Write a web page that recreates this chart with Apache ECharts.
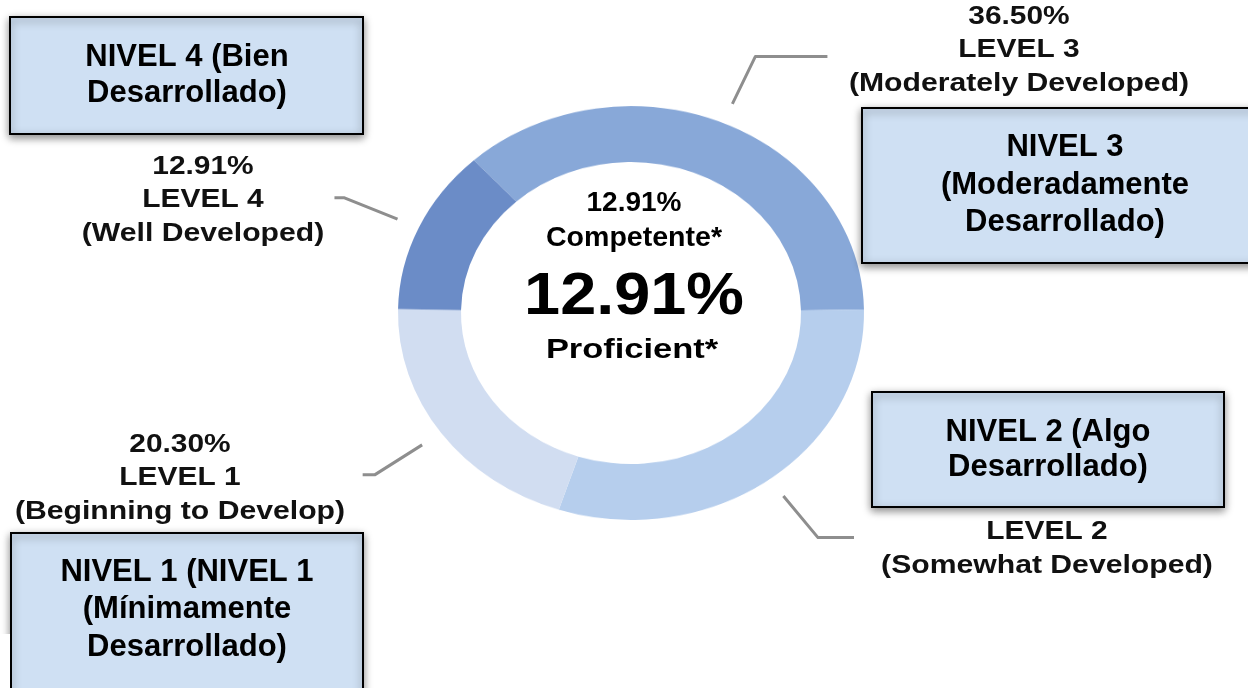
<!DOCTYPE html>
<html><head><meta charset="utf-8">
<script src="https://cdn.jsdelivr.net/npm/echarts@6/dist/echarts.min.js"></script>
<style>
html,body{margin:0;padding:0;background:#fff;overflow:hidden}
#wrap{position:relative;width:1248px;height:688px;background:#fff}
#pie{position:absolute;left:0;top:0;width:1248px;height:688px;transform:scaleY(0.888);transform-origin:0 313px}
#over{position:absolute;left:0;top:0;width:1248px;height:688px}
</style></head><body>
<div id="wrap"><div id="pie"></div><div id="over"></div></div>
<script>
// ---- data ----
const categories = ['LEVEL 3', 'LEVEL 2', 'LEVEL 1', 'LEVEL 4'];
const descriptors = ['(Moderately Developed)', '(Somewhat Developed)', '(Beginning to Develop)', '(Well Developed)'];
const values = [36.50, 30.29, 20.30, 12.91];
const boxTexts = [
  ['NIVEL 3', '(Moderadamente', 'Desarrollado)'],
  ['NIVEL 2 (Algo', 'Desarrollado)'],
  ['NIVEL 1 (NIVEL 1', '(Mínimamente', 'Desarrollado)'],
  ['NIVEL 4 (Bien', 'Desarrollado)']
];
const centerSmallLabel = 'Competente*';
const centerBigLabel = 'Proficient*';
const proficientIndex = 3;

// ---- style / layout ----
const colors = ['#88a8d8', '#b6ceed', '#d1ddf1', '#6b8cc7'];
const CX = 631, CY = 313, R_IN = 170, R_OUT = 233, SY = 0.888, START = 132.4;
const labelPos = [[1019, 17], [1047, 499], [180, 445], [203, 167]];
const tails = [72, 36, -12, -10];
const boxes = [
  {x: 862, y: 108, w: 420, h: 155, cx: 1065, ly: [147, 185, 222]},
  {x: 872, y: 392, w: 352, h: 115, cx: 1048, ly: [432, 467]},
  {x: 11, y: 533, w: 352, h: 175, cx: 187, ly: [572, 609, 647]},
  {x: 10, y: 17, w: 353, h: 117, cx: 187, ly: [57, 93]}
];
const FONT = '"Liberation Sans", Arial, Helvetica, sans-serif';

// ---- donut (elliptical via css scale) ----
const pie = echarts.init(document.getElementById('pie'), null, {renderer: 'canvas'});
pie.setOption({
  animation: false,
  series: [{
    type: 'pie', center: [CX, CY], radius: [R_IN, R_OUT], startAngle: START, clockwise: true,
    silent: true, label: {show: false}, labelLine: {show: false},
    emphasis: {disabled: true},
    data: values.map((v, i) => ({name: categories[i], value: v, itemStyle: {color: colors[i]}}))
  }]
});

// ---- overlay: texts, leader lines, boxes ----
function txt(s, x, y, size, sx, z, fill) {
  return {type: 'text', x: x, y: y, scaleX: sx || 1, z: z || 5,
    style: {text: s, font: 'bold ' + size + 'px ' + FONT, fill: fill || '#111',
      textAlign: 'center', textVerticalAlign: 'middle', align: 'center', verticalAlign: 'middle'}};
}
const g = [];
const total = values.reduce((a, b) => a + b, 0);
let cum = 0;
values.forEach((v, i) => {
  const mid = (90 - START) + 360 * (cum + v / 2) / total; // degrees clockwise from top
  cum += v;
  const t = mid * Math.PI / 180;
  const pt = k => [CX + R_OUT * k * Math.sin(t), CY - R_OUT * SY * k * Math.cos(t)];
  const p0 = pt(1.1), p1 = pt(1.35), p2 = [p1[0] + tails[i], p1[1]];
  g.push({type: 'polyline', z: 3, shape: {points: [p0, p1, p2]},
    style: {stroke: '#8e8e8e', lineWidth: 3, fill: null, lineJoin: 'round'}});
  const [lx, ly] = labelPos[i];
  g.push(txt(v.toFixed(2) + '%', lx, ly, 26, 1.15, 5));
  g.push(txt(categories[i], lx, ly + 33, 26, 1.15, 5));
  g.push(txt(descriptors[i], lx, ly + 67, 26, 1.16, 5));
});
boxes.forEach((b, i) => {
  g.push({type: 'rect', z: 10, shape: {x: b.x, y: b.y, width: b.w, height: b.h},
    style: {fill: '#cfe0f3', stroke: '#000', lineWidth: 2, shadowBlur: 8,
      shadowColor: 'rgba(0,0,0,0.45)', shadowOffsetX: 0, shadowOffsetY: 3}});
  boxTexts[i].forEach((s, j) => g.push(txt(s, b.cx, b.ly[j], 31, 1, 11, '#000')));
});
g.push({type: 'rect', z: 12, shape: {x: 0, y: 634, width: 10, height: 54}, style: {fill: '#fff'}});
const pv = values[proficientIndex].toFixed(2) + '%';
g.push(txt(pv, 634, 203, 28, 1, 6, '#000'));
g.push(txt(centerSmallLabel, 634, 238, 28, 1.02, 6, '#000'));
g.push(txt(pv, 634, 297, 60, 1.08, 6, '#000'));
g.push(txt(centerBigLabel, 632, 350, 28, 1.23, 6, '#000'));

const over = echarts.init(document.getElementById('over'), null, {renderer: 'canvas'});
over.setOption({animation: false, backgroundColor: 'transparent', graphic: {elements: g}});
</script>
</body></html>
